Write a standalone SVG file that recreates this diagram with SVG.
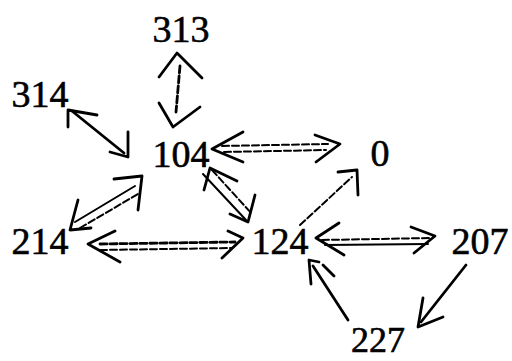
<svg xmlns="http://www.w3.org/2000/svg" width="512" height="361" viewBox="0 0 512 361">
<style>
.lbl{font-family:"Liberation Serif","DejaVu Serif",serif;font-size:38px;fill:#000;stroke:#000;stroke-width:0.6;text-anchor:middle}
.e{fill:none;stroke:#000;stroke-width:2.8;stroke-linecap:round;stroke-linejoin:round}
.d{stroke-dasharray:7 3}
.t{stroke-width:2}
</style>
<rect width="512" height="361" fill="#fff"/>
<g id="connectors">
<g id="e313-104"><path class="e d" d="M180,66 L176,112"/><path class="e" d="M159,77 L177,53 L202,78"/><path class="e" d="M159,103 L173,127 L200,107"/></g>
<g id="e314-104"><path class="e" d="M72,111 L124,153"/><path class="e" d="M97,115 L68,110 L68,127"/><path class="e" d="M128,132 L128,157 L110,152"/></g>
<g id="e104-0"><path class="e d t" d="M222,146 L328,144"/><path class="e d t" d="M224,152 L326,150"/><path class="e" d="M243,132 L212,149 L243,162"/><path class="e" d="M315,135 L340,144 L316,162"/></g>
<g id="e104-124"><path class="e t" d="M203,174 L246,220"/><path class="e d t" d="M212,170 L252,214"/><path class="e" d="M255,195 L248,222 L230,214"/><path class="e" d="M204,190 L210,168 L237,181"/></g>
<g id="e214-104"><path class="e t" d="M75,222 L135,186"/><path class="e d t" d="M80,228 L138,194"/><path class="e" d="M78,200 L70,230 L91,228"/><path class="e" d="M114,179 L142,176 L138,210"/></g>
<g id="e214-124"><path class="e d" d="M100,244 L235,242"/><path class="e d t" d="M100,250 L232,248"/><path class="e" d="M115,231 L88,244 L120,262"/><path class="e" d="M228,231 L243,238 L222,258"/></g>
<g id="e124-0"><path class="e d t" d="M300,225 L352,177"/><path class="e" d="M338,172 L357,170 L358,195"/></g>
<g id="e124-207"><path class="e d t" d="M322,240 L430,238"/><path class="e t" d="M325,245 L428,244"/><path class="e" d="M339,223 L316,238 L344,255"/><path class="e" d="M411,227 L435,236 L414,253"/></g>
<g id="e207-227"><path class="e" d="M466,265 L421,322"/><path class="e" d="M423,298 L418,327 L443,317"/></g>
<g id="e227-124"><path class="e" d="M348,320 L313,266"/><path class="e" d="M323,265 L334,276"/><path class="e" d="M311,284 L309,260 L319,262"/></g>
</g>
<g id="n313"><text class="lbl" x="181" y="42">313</text></g>
<g id="n314"><text class="lbl" x="40" y="107">314</text></g>
<g id="n104"><text class="lbl" x="181" y="167">104</text></g>
<g id="n0"><text class="lbl" x="380" y="166">0</text></g>
<g id="n214"><text class="lbl" x="40" y="254">214</text></g>
<g id="n124"><text class="lbl" x="280" y="254">124</text></g>
<g id="n207"><text class="lbl" x="480" y="254">207</text></g>
<g id="n227"><text class="lbl" x="378" y="352" style="font-size:36px">227</text></g>
</svg>
